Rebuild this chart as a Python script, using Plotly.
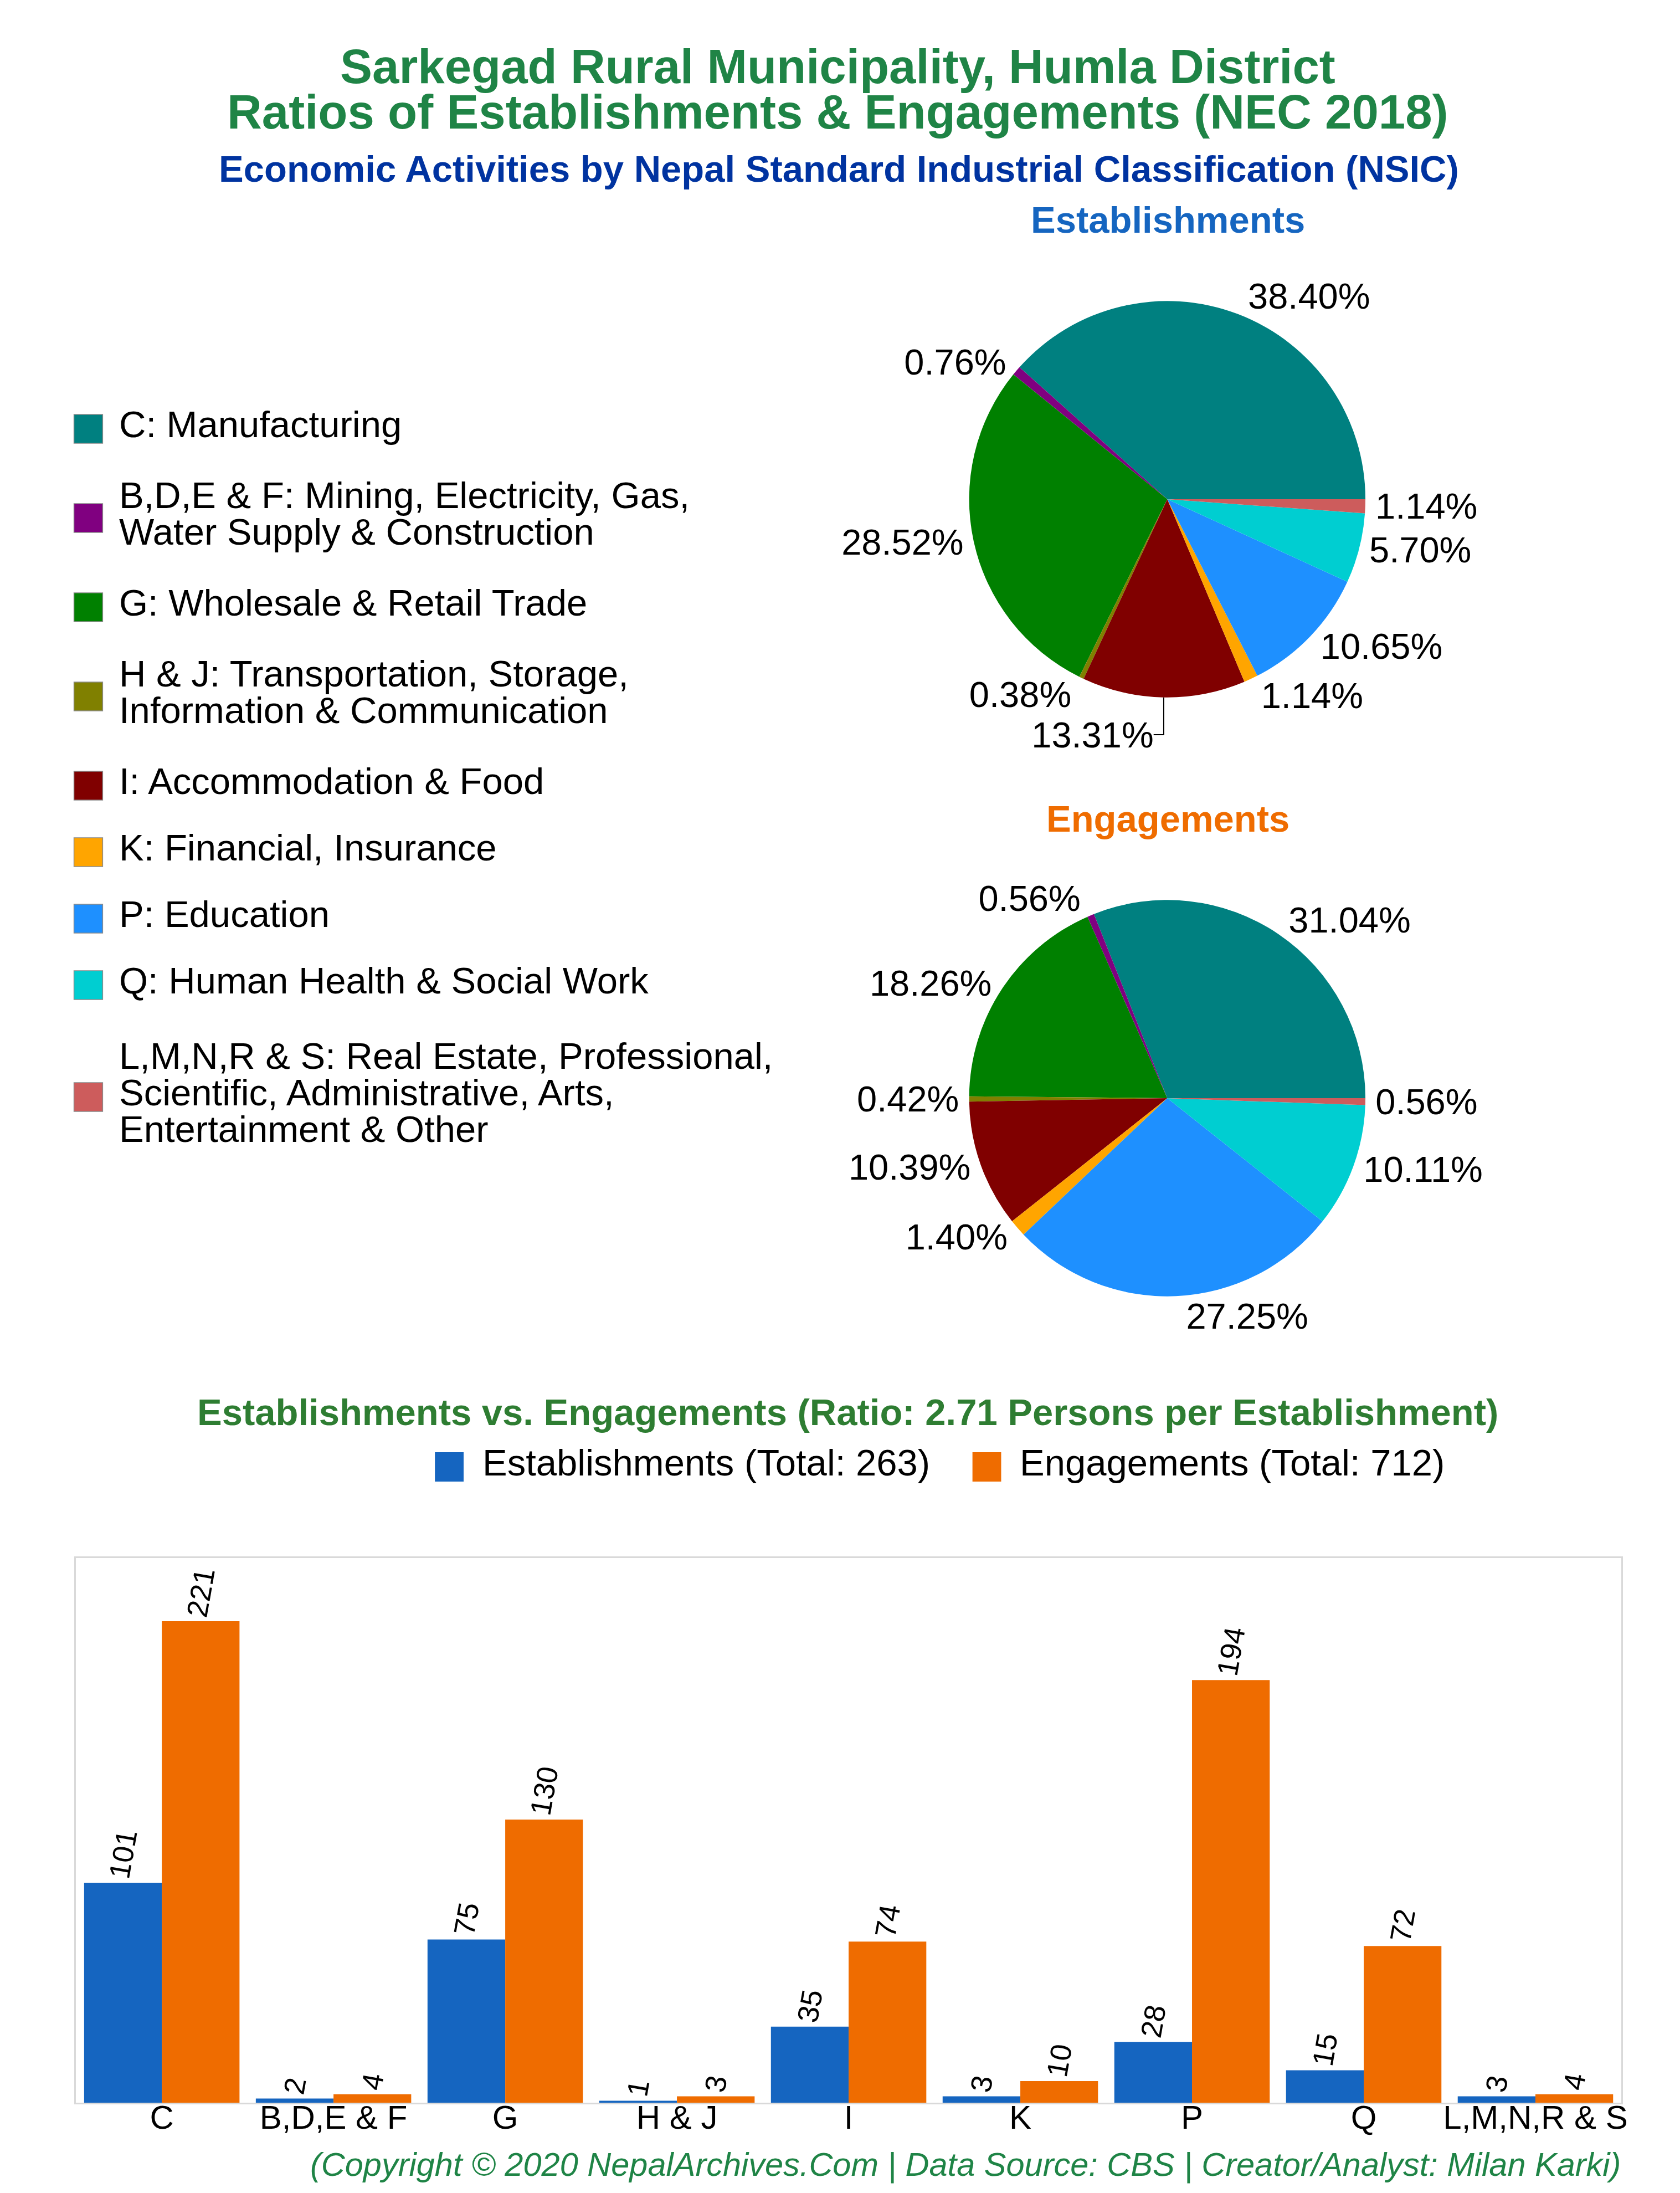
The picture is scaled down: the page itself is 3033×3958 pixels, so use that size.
import plotly.graph_objects as go

# ---------------- data ----------------
sector_labels = [
    "C: Manufacturing",
    "B,D,E & F: Mining, Electricity, Gas,<br>Water Supply & Construction",
    "G: Wholesale & Retail Trade",
    "H & J: Transportation, Storage,<br>Information & Communication",
    "I: Accommodation & Food",
    "K: Financial, Insurance",
    "P: Education",
    "Q: Human Health & Social Work",
    "L,M,N,R & S: Real Estate, Professional,<br>Scientific, Administrative, Arts,<br>Entertainment & Other",
]
sector_codes = ["C", "B,D,E & F", "G", "H & J", "I", "K", "P", "Q", "L,M,N,R & S"]
sector_colors = ["#008080", "#800080", "#008000", "#808000", "#800000",
                 "#FFA500", "#1E90FF", "#00CED1", "#CD5C5C"]
establishments = [101, 2, 75, 1, 35, 3, 28, 15, 3]
engagements = [221, 4, 130, 3, 74, 10, 194, 72, 4]
series_names = ["Establishments", "Engagements"]
series_colors = ["#1565C0", "#EF6C00"]

title_lines = ["Sarkegad Rural Municipality, Humla District",
               "Ratios of Establishments & Engagements (NEC 2018)"]
subtitle = "Economic Activities by Nepal Standard Industrial Classification (NSIC)"
copyright_text = ("(Copyright \u00a9 2020 NepalArchives.Com | Data Source: CBS | "
                  "Creator/Analyst: Milan Karki)")

# ---------------- layout helpers ----------------
W, H = 3033, 3958
FONT = "Liberation Sans, Arial, sans-serif"
TITLE_GREEN = "#1F8446"
BAR_TITLE_GREEN = "#2E7D32"
SUB_BLUE = "#0033A0"


def px(x):
    return x / W


def py(y):
    return 1 - y / H


tot_est = sum(establishments)
tot_eng = sum(engagements)
ratio = tot_eng / tot_est

fig = go.Figure()

# pies: first slice (C) runs counter-clockwise starting from 3 o'clock
PIE_CX, PIE_R = 2107, 359
pie_centers_y = [893, 1974]
for vals, cy in zip([establishments, engagements], pie_centers_y):
    rot = 90 - 360.0 * vals[0] / sum(vals)
    fig.add_trace(go.Pie(
        labels=sector_labels, values=vals,
        marker=dict(colors=sector_colors, line=dict(width=0)),
        sort=False, direction="counterclockwise", rotation=rot,
        textposition="outside", texttemplate="%{percent:.2%}",
        textfont=dict(size=65, color="black", family=FONT),
        domain=dict(x=[px(PIE_CX - PIE_R), px(PIE_CX + PIE_R)],
                    y=[py(cy + PIE_R), py(cy - PIE_R)]),
        showlegend=False, automargin=False, hoverinfo="label+value+percent",
    ))

# bars
for name, vals, col in zip(series_names, [establishments, engagements], series_colors):
    fig.add_trace(go.Bar(
        x=sector_codes, y=vals, name=name, marker=dict(color=col, line=dict(width=0)),
        text=vals, textposition="outside", textangle=-80,
        textfont=dict(size=53, color="black", family=FONT),
        cliponaxis=False, constraintext="none", showlegend=False,
    ))

PLOT_L, PLOT_R, PLOT_T, PLOT_B = 129.6, 2929.6, 2804, 3787.4

annotations = []
shapes = []


def add_text(text, x, y, size, color="black", xanchor="center", weight="normal", style="normal"):
    # y is the centre of the capitals; the text box centre sits a little lower
    annotations.append(dict(
        text=text, x=px(x), y=py(y - 0.12 * size), xref="paper", yref="paper",
        xanchor=xanchor, yanchor="middle", showarrow=False,
        font=dict(family=FONT, size=size, color=color, weight=weight, style=style),
    ))


# titles
add_text(title_lines[0], 1510, 122, 87, TITLE_GREEN, weight="bold")
add_text(title_lines[1], 1510, 204, 87, TITLE_GREEN, weight="bold")
add_text(subtitle, 1512, 305, 67, SUB_BLUE, weight="bold")
add_text(series_names[0], 2108, 397, 67, series_colors[0], weight="bold")
add_text(series_names[1], 2108, 1478, 67, series_colors[1], weight="bold")
add_text(f"Establishments vs. Engagements (Ratio: {ratio:.2f} Persons per Establishment)",
         1528, 2549, 67, BAR_TITLE_GREEN, weight="bold")
add_text(copyright_text, 2931, 3906, 59.5, TITLE_GREEN, xanchor="right", style="italic")

# left legend (sectors)
LINE_H = 66
y_c = 766
prev_h = None
for lab, col in zip(sector_labels, sector_colors):
    lines = lab.split("<br>")
    h_item = 82 * len(lines) + 38
    if prev_h is not None:
        y_c += (prev_h + h_item) / 2
    prev_h = h_item
    shapes.append(dict(type="rect", xref="paper", yref="paper",
                       x0=px(126), x1=px(178), y0=py(y_c - 26), y1=py(y_c + 26),
                       fillcolor=col, line=dict(color="#8a8a8a", width=1.5)))
    n = len(lines)
    for i, ln in enumerate(lines):
        ly = y_c + (i - (n - 1) / 2) * LINE_H
        add_text(ln, 206, ly, 67, "black", xanchor="left")

# bar legend
bar_leg = [(f"{series_names[0]} (Total: {tot_est})", 780, series_colors[0]),
           (f"{series_names[1]} (Total: {tot_eng})", 1754, series_colors[1])]
for txt, x0, col in bar_leg:
    shapes.append(dict(type="rect", xref="paper", yref="paper",
                       x0=px(x0), x1=px(x0 + 52), y0=py(2666), y1=py(2613),
                       fillcolor=col, line=dict(width=0)))
    add_text(txt, x0 + 84, 2640, 67, "black", xanchor="left")

fig.update_layout(
    width=W, height=H,
    margin=dict(l=0, r=0, t=0, b=0),
    paper_bgcolor="white", plot_bgcolor="white",
    font=dict(family=FONT, color="black"),
    barmode="group", bargap=0.095, bargroupgap=0,
    xaxis=dict(domain=[px(PLOT_L), px(PLOT_R)], type="category",
               tickfont=dict(size=60, color="black", family=FONT),
               ticklabelstandoff=-28,
               showline=True, mirror=True, linecolor="#D9D9D9", linewidth=2.5,
               ticks="", showgrid=False, zeroline=False),
    yaxis=dict(domain=[py(PLOT_B), py(PLOT_T)], range=[0, 250],
               showticklabels=False, showgrid=False, zeroline=False,
               showline=True, mirror=True, linecolor="#D9D9D9", linewidth=2.5,
               ticks=""),
    annotations=annotations,
    shapes=shapes,
    showlegend=False,
)

fig.write_html("out.html")
